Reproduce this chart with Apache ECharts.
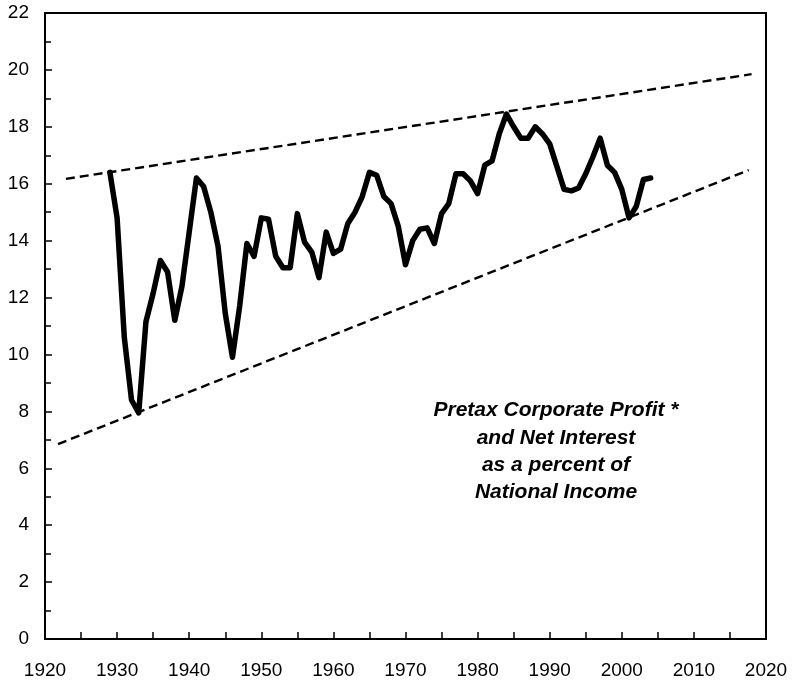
<!DOCTYPE html>
<html>
<head>
<meta charset="utf-8">
<title>Pretax Corporate Profit and Net Interest</title>
<script src="https://cdn.jsdelivr.net/npm/echarts@6/dist/echarts.min.js"></script>
<style>
  html, body { margin: 0; padding: 0; background: #fff; }
  #main { width: 794px; height: 681px; }
</style>
</head>
<body>
<div id="main"></div>
<script>
'use strict';

// years and share of national income (%)
var years = [];
for (var y = 1929; y <= 2004; y++) { years.push(y); }

var shareValues = [
  16.4, 14.8, 10.6, 8.4, 7.95, 11.15, 12.15, 13.3, 12.9, 11.2,      // 1929-1938
  12.4, 14.3, 16.2, 15.9, 15.0, 13.8, 11.45, 9.9, 11.7, 13.9,       // 1939-1948
  13.45, 14.8, 14.75, 13.45, 13.05, 13.05, 14.95, 13.95, 13.6, 12.7, // 1949-1958
  14.3, 13.55, 13.7, 14.6, 15.0, 15.55, 16.4, 16.3, 15.55, 15.3,    // 1959-1968
  14.5, 13.15, 14.0, 14.4, 14.45, 13.9, 14.95, 15.3, 16.35, 16.35,  // 1969-1978
  16.1, 15.65, 16.65, 16.8, 17.75, 18.45, 18.0, 17.6, 17.6, 18.0,   // 1979-1988
  17.75, 17.4, 16.6, 15.8, 15.75, 15.85, 16.35, 16.95, 17.6, 16.65, // 1989-1998
  16.4, 15.8, 14.8, 15.2, 16.15, 16.2                               // 1999-2004
];

// dashed channel lines [year, value]
var upperTrend = [[1922.9, 16.17], [2018.0, 19.85]];
var lowerTrend = [[1921.8, 6.85], [2017.6, 16.48]];

var noteLines = [
  'Pretax Corporate Profit *',
  'and Net Interest',
  'as a percent of',
  'National Income'
];

var xTicks = { min: 1920, max: 2020, step: 10 };
var yTicks = { min: 0, max: 22, step: 2 };

function pairs (xs, vs) {
  var out = [];
  for (var i = 0; i < xs.length; i++) { out.push([xs[i], vs[i]]); }
  return out;
}

var font = '"Liberation Sans", Arial, sans-serif';

var myChart = echarts.init(document.getElementById('main'), null, { renderer: 'canvas' });

var option = {
  animation: false,
  backgroundColor: '#fff',
  grid: {
    left: 45, right: 28, top: 13, bottom: 42,
    show: true, borderColor: '#000', borderWidth: 2, backgroundColor: 'transparent'
  },
  xAxis: {
    type: 'value',
    min: xTicks.min, max: xTicks.max, interval: xTicks.step,
    axisLine: { lineStyle: { color: '#000', width: 2 } },
    axisTick: { inside: true, length: 7, lineStyle: { color: '#000', width: 1.5 } },
    minorTick: { show: true, splitNumber: 2, length: 7, lineStyle: { color: '#000', width: 1.5 } },
    splitLine: { show: false },
    axisLabel: {
      color: '#000', fontSize: 19, fontFamily: font, margin: 22,
      formatter: function (v) { return String(v); }
    }
  },
  yAxis: {
    type: 'value',
    min: yTicks.min, max: yTicks.max, interval: yTicks.step,
    axisLine: { show: true, lineStyle: { color: '#000', width: 2 } },
    axisTick: { show: true, inside: true, length: 7, lineStyle: { color: '#000', width: 1.5 } },
    minorTick: { show: true, splitNumber: 2, length: 6, lineStyle: { color: '#000', width: 1.5 } },
    splitLine: { show: false },
    axisLabel: { color: '#000', fontSize: 19, fontFamily: font, margin: 16 }
  },
  series: [
    {
      type: 'line',
      data: upperTrend,
      showSymbol: false,
      lineStyle: { color: '#000', width: 2.4, type: [9, 5] },
      z: 2
    },
    {
      type: 'line',
      data: lowerTrend,
      showSymbol: false,
      lineStyle: { color: '#000', width: 2.4, type: [9, 5] },
      z: 2
    },
    {
      type: 'line',
      data: pairs(years, shareValues),
      showSymbol: false,
      lineStyle: { color: '#000', width: 5.5, join: 'round', cap: 'round' },
      z: 3
    }
  ],
  graphic: [
    {
      type: 'text',
      x: 556, y: 397,
      style: {
        text: noteLines.join('\n'),
        align: 'center',
        verticalAlign: 'top',
        lineHeight: 27.3,
        fill: '#000',
        font: 'italic bold 21px ' + font
      }
    }
  ]
};

myChart.setOption(option);
</script>
</body>
</html>
